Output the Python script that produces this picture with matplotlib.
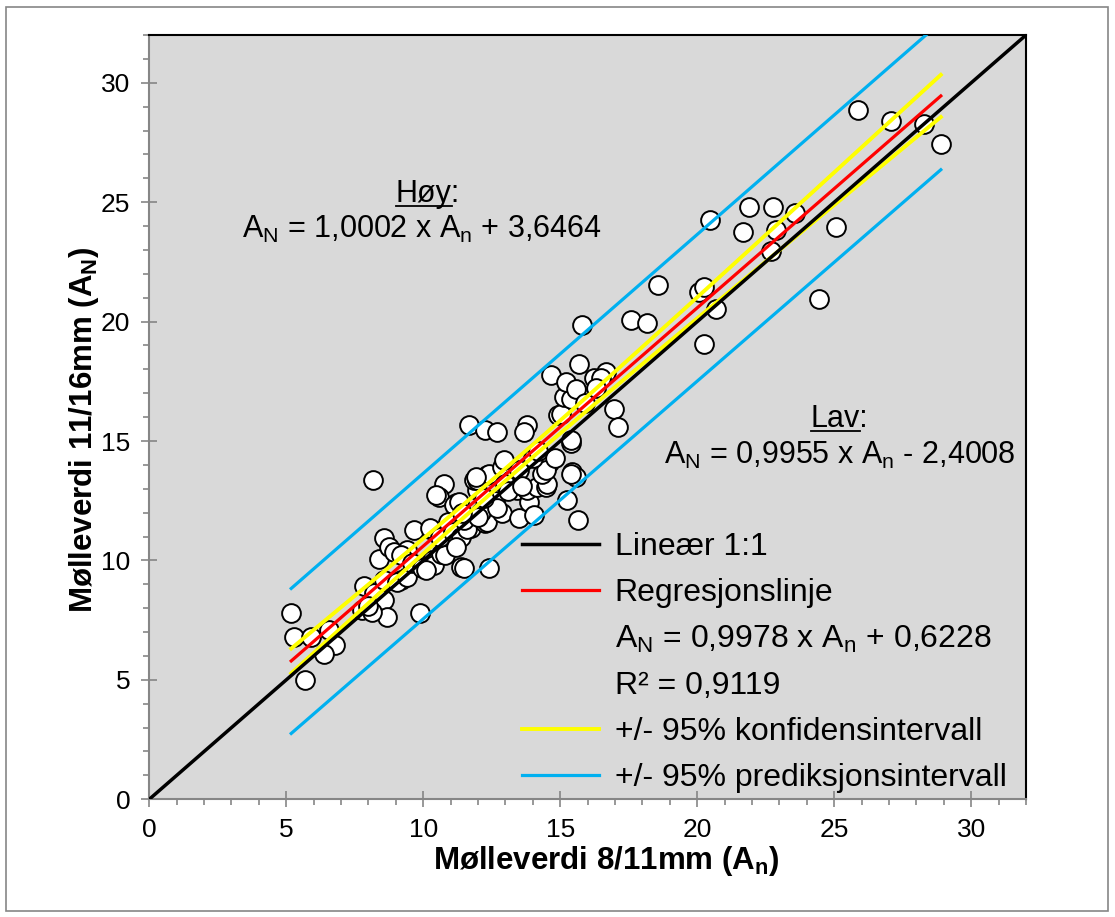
import numpy as np
import matplotlib
matplotlib.use("Agg")
import matplotlib.pyplot as plt
from matplotlib.lines import Line2D
from matplotlib.patches import Rectangle
from matplotlib.transforms import IdentityTransform

plt.rcParams['font.family'] = ['Liberation Sans', 'DejaVu Sans']
plt.rcParams['mathtext.fontset'] = 'custom'
plt.rcParams['mathtext.rm'] = 'Liberation Sans'
plt.rcParams['mathtext.bf'] = 'Liberation Sans:bold'
plt.rcParams['mathtext.default'] = 'regular'

# Mølleverdi 8/11mm (x) vs 11/16mm (y)
x_n = [5.18, 5.27, 5.9, 6.79, 6.37, 5.67, 6.57,
       7.85, 7.77, 8.19, 8.56, 8.68, 8.13, 8.56, 8.0,
       8.17, 8.56, 8.37, 8.74, 8.92, 9.17, 9.05,
       9.41, 9.17, 9.41, 9.65, 9.87, 9.6,
       10.02, 10.33, 10.33, 10.26, 9.96, 10.39, 10.63,
       10.87, 11.1, 10.81, 10.77, 10.57, 10.45, 11.18,
       11.12, 11.3, 11.36, 11.48, 10.1, 10.6, 10.9, 11.1,
       11.36, 11.18, 11.73, 12.27, 12.34, 12.09, 11.97,
       11.85, 12.34, 11.97, 12.4, 12.88, 12.94, 12.88,
       12.4, 11.66, 12.27, 12.68, 11.91, 13.19, 13.43,
       11.6, 11.5, 12.0, 12.6, 12.7, 13.0, 13.1, 11.4, 12.2,
       13.49, 13.86, 14.04, 13.8, 14.16, 14.47, 14.53,
       14.35, 14.59, 14.47, 15.38, 15.44, 15.56, 15.38,
       15.26, 15.63, 13.77, 13.67, 15.38, 14.9, 15.02,
       15.14, 15.38, 13.5, 14.0, 14.2, 13.6, 14.8,
       15.69, 14.65, 15.2, 15.56, 16.23, 16.66, 16.48,
       16.97, 17.09, 15.78, 17.58, 18.16, 18.57, 15.9, 16.3,
       20.07, 20.26, 20.68, 20.26, 20.48, 21.88, 22.78,
       23.58, 21.68, 22.88, 22.69, 25.07, 24.46, 25.86,
       27.08, 28.28, 28.89]
y_N = [7.78, 6.78, 6.8, 6.46, 6.08, 4.99, 7.08,
       8.92, 7.92, 8.62, 8.34, 7.64, 7.85, 9.18, 8.1,
       13.36, 10.92, 10.04, 10.57, 10.36, 9.18, 9.1,
       10.43, 10.22, 9.31, 11.27, 7.78, 9.9,
       9.73, 10.01, 11.27, 11.35, 9.67, 9.8, 10.29,
       10.57, 10.85, 10.22, 13.18, 12.64, 12.73, 12.4,
       12.31, 12.45, 9.73, 9.67, 9.6, 11.0, 11.6, 11.2,
       10.99, 10.57, 11.34, 11.55, 11.62, 12.03, 12.94,
       13.36, 13.57, 13.36, 13.64, 13.92, 14.2, 11.97,
       9.67, 15.66, 15.45, 15.36, 13.5, 13.36, 12.94,
       11.3, 11.7, 11.8, 12.5, 12.2, 13.2, 12.9, 12.0, 12.6,
       11.76, 12.45, 11.9, 12.94, 13.08, 13.08, 13.22,
       13.64, 14.06, 13.78, 14.9, 13.71, 13.5, 13.64,
       12.52, 11.69, 15.66, 15.38, 15.03, 16.08, 16.15,
       16.85, 16.78, 13.8, 14.3, 14.6, 13.1, 14.3,
       18.24, 17.75, 17.47, 17.17, 17.65, 17.89, 17.62,
       16.36, 15.59, 19.85, 20.05, 19.94, 21.55, 16.6, 17.2,
       21.24, 21.45, 20.54, 19.05, 24.24, 24.82, 24.82,
       24.54, 23.75, 23.85, 22.95, 23.96, 20.93, 28.84,
       28.42, 28.28, 27.45]

# equations printed on the chart
reg_slope, reg_icpt = 0.9978, 0.6228
hoy_slope, hoy_icpt = 1.0002, 3.6464
lav_slope, lav_icpt = 0.9955, -2.4008
t_95 = 1.976

x = np.array(x_n)
y = np.array(y_N)
n = len(x)
resid = y - (reg_slope * x + reg_icpt)
s = np.sqrt(np.sum(resid ** 2) / (n - 2))
xbar = x.mean()
sxx = np.sum((x - xbar) ** 2)

xx = np.linspace(x.min(), x.max(), 120)
fit = reg_slope * xx + reg_icpt
ci = t_95 * s * np.sqrt(1 / n + (xx - xbar) ** 2 / sxx)
xr = np.array([x.min(), x.max()])

fig = plt.figure(figsize=(11.15, 9.17), dpi=100)
fig.add_artist(Rectangle((0.005, 0.007), 0.989, 0.985, transform=fig.transFigure,
                         fill=False, edgecolor='#868686', lw=1.2))
ax = fig.add_axes([0.1339, 0.1284, 0.7863, 0.8334])
ax.set_facecolor('#D9D9D9')
ax.set_xlim(0, 32)
ax.set_ylim(0, 32)

ax.plot(x, y, 'o', ms=13.5, mfc='white', mec='black', mew=1.4, zorder=2)
ax.plot(xr, hoy_slope * xr + hoy_icpt, color='#00B0F0', lw=2.3, zorder=3)
ax.plot(xr, lav_slope * xr + lav_icpt, color='#00B0F0', lw=2.3, zorder=3)
ax.plot(xx, fit + ci, color='#FFFF00', lw=2.8, zorder=3)
ax.plot(xx, fit - ci, color='#FFFF00', lw=2.8, zorder=3)
ax.plot(xx, fit, color='#FF0000', lw=2.3, zorder=4)
ax.plot([0, 32], [0, 32], color='black', lw=2.5, zorder=5)

ax.set_xticks(range(0, 31, 5))
ax.set_yticks(range(0, 31, 5))
ax.set_xticks(range(0, 33), minor=True)
ax.set_yticks(range(0, 33), minor=True)
ax.tick_params(which='major', direction='inout', length=11.5, width=1.2,
               color='#868686', labelsize=19, pad=8)
ax.tick_params(which='minor', direction='out', length=4.3, width=1.2, color='#868686')
for side in ['left', 'bottom']:
    ax.spines[side].set_color('#868686')
    ax.spines[side].set_linewidth(1.5)
for side in ['top', 'right']:
    ax.spines[side].set_color('black')
    ax.spines[side].set_linewidth(1.5)

ax.set_xlabel(r'Mølleverdi 8/11mm ($\mathbf{A_n}$)', fontsize=22.5, fontweight='bold')
ax.set_ylabel(r'Mølleverdi 11/16mm ($\mathbf{A_N}$)', fontsize=22.5, fontweight='bold')
ax.xaxis.set_label_coords(0.521, -0.058)
ax.yaxis.set_label_coords(-0.055, 0.483)

renderer = fig.canvas.get_renderer()


def underlined(xc, yb, word, size):
    t = ax.text(xc, yb, word + ':', ha='center', va='baseline', fontsize=size)
    bb = t.get_window_extent(renderer)
    tmp = ax.text(0, 0, word, fontsize=size)
    w = tmp.get_window_extent(renderer).width
    tmp.remove()
    yd = ax.transData.transform((xc, yb))[1] - 4
    fig.add_artist(Line2D([bb.x0, bb.x0 + w], [yd, yd], color='black', lw=1.3,
                          transform=IdentityTransform()))


underlined(10.17, 25.0, 'Høy', 22)
ax.text(9.95, 23.5, r'A$_N$ = 1,0002 x A$_n$ + 3,6464', ha='center', va='baseline', fontsize=22)
underlined(25.2, 15.6, 'Lav', 22)
ax.text(25.2, 14.05, r'A$_N$ = 0,9955 x A$_n$ - 2,4008', ha='center', va='baseline', fontsize=22)

blank = Line2D([], [], color='none')
handles = [Line2D([], [], color='black', lw=2.5),
           Line2D([], [], color='#FF0000', lw=2.3),
           blank, blank,
           Line2D([], [], color='#FFFF00', lw=2.8),
           Line2D([], [], color='#00B0F0', lw=2.3)]
labels = ['Lineær 1:1', 'Regresjonslinje',
          r'A$_N$ = 0,9978 x A$_n$ + 0,6228', 'R² = 0,9119',
          '+/- 95% konfidensintervall', '+/- 95% prediksjonsintervall']
ax.legend(handles, labels, loc='lower left', bbox_to_anchor=(0.425, 0.008),
          frameon=False, fontsize=23, handlelength=2.4, handletextpad=0.5,
          labelspacing=0.5, borderpad=0, borderaxespad=0)

fig.savefig('out.png', dpi=100)
